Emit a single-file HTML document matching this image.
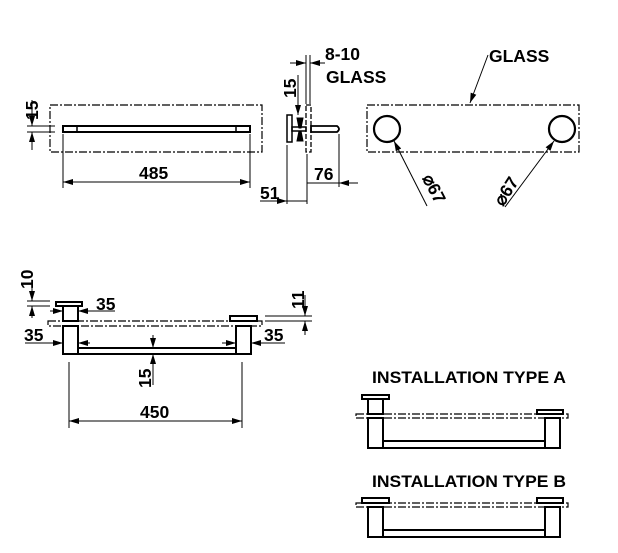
<!DOCTYPE html>
<html><head><meta charset="utf-8"><style>
html,body{margin:0;padding:0;background:#fff;width:618px;height:553px;overflow:hidden}
text{font-family:"Liberation Sans",Arial,sans-serif;font-weight:bold;fill:#000}
</style></head><body>
<svg width="618" height="553" viewBox="0 0 618 553" xmlns="http://www.w3.org/2000/svg">
<defs>
<marker id="a" viewBox="0 0 10 6" refX="10" refY="3" markerWidth="11" markerHeight="6" markerUnits="userSpaceOnUse" orient="auto"><path d="M0,0L10,3L0,6z" fill="#000"/></marker>
</defs>
<g fill="none" stroke="#000" stroke-width="1">
<!-- top left view -->
<rect x="50" y="105" width="212" height="47" stroke-dasharray="8,2,2,2" stroke-width="1.2"/>
<rect x="63" y="126" width="187" height="6" stroke-width="2"/>
<line x1="77" y1="126" x2="77" y2="132" stroke-width="1.5"/><line x1="236" y1="126" x2="236" y2="132" stroke-width="1.5"/>
<line x1="63" y1="134" x2="63" y2="188"/><line x1="250" y1="134" x2="250" y2="188"/>
<line x1="63" y1="182" x2="250" y2="182"/>
<line x1="95" y1="182" x2="63" y2="182" marker-end="url(#a)"/>
<line x1="215" y1="182" x2="250" y2="182" marker-end="url(#a)"/>
<line x1="27" y1="126" x2="55" y2="126"/><line x1="27" y1="132" x2="55" y2="132"/>
<line x1="32" y1="100" x2="32" y2="126" marker-end="url(#a)"/>
<line x1="32" y1="150" x2="32" y2="132" marker-end="url(#a)"/>
<!-- side view -->
<rect x="306" y="105" width="5" height="47" stroke-dasharray="5,2" stroke-width="1.3"/>
<rect x="287" y="115" width="5" height="27" stroke-width="1.5"/>
<rect x="292" y="127" width="14" height="4" stroke-width="1.5"/>
<path d="M297,118 L303,118 L301,128 L299,128Z M297,141 L303,141 L301,131 L299,131Z" fill="#000"/>
<path d="M311,126 L337,126 Q341,129 337,132 L311,132Z" stroke-width="1.8"/>
<line x1="306" y1="55" x2="306" y2="104"/><line x1="310" y1="55" x2="310" y2="104"/>
<line x1="290" y1="63" x2="306" y2="63" marker-end="url(#a)"/>
<line x1="325" y1="63" x2="310" y2="63" marker-end="url(#a)"/>
<line x1="298" y1="75" x2="298" y2="115" marker-end="url(#a)"/>
<line x1="287" y1="145" x2="287" y2="204"/><line x1="307" y1="154" x2="307" y2="204"/><line x1="339" y1="134" x2="339" y2="187"/>
<line x1="358" y1="183" x2="339" y2="183" marker-end="url(#a)"/>
<line x1="307" y1="183" x2="339" y2="183"/>
<line x1="260" y1="201" x2="287" y2="201" marker-end="url(#a)"/>
<line x1="287" y1="201" x2="307" y2="201"/>
<!-- right view -->
<rect x="367" y="105" width="212" height="47" stroke-dasharray="8,2,2,2" stroke-width="1.2"/>
<circle cx="387" cy="129" r="13" stroke-width="2.2"/>
<circle cx="562" cy="129" r="13" stroke-width="2.2"/>
<line x1="488" y1="55" x2="470" y2="103" marker-end="url(#a)"/>
<line x1="427" y1="206" x2="394" y2="141" marker-end="url(#a)"/>
<line x1="505" y1="207" x2="554" y2="141" marker-end="url(#a)"/>
<!-- bottom left -->
<rect x="48" y="321" width="214" height="5" stroke-dasharray="8,2,2,2" stroke-width="1.2"/>
<rect x="56" y="302" width="26" height="4" stroke-width="2"/>
<rect x="63" y="306" width="15" height="15" stroke-width="2"/>
<rect x="63" y="326" width="15" height="28" stroke-width="2"/>
<rect x="230" y="316" width="27" height="5" stroke-width="2"/>
<rect x="236" y="326" width="15" height="28" stroke-width="2"/>
<rect x="78" y="348" width="158" height="6" stroke-width="2"/>
<line x1="69" y1="362" x2="69" y2="428"/><line x1="242" y1="362" x2="242" y2="428"/>
<line x1="69" y1="421" x2="242" y2="421"/>
<line x1="100" y1="421" x2="69" y2="421" marker-end="url(#a)"/>
<line x1="210" y1="421" x2="242" y2="421" marker-end="url(#a)"/>
<line x1="153" y1="335" x2="153" y2="348" marker-end="url(#a)"/>
<line x1="153" y1="385" x2="153" y2="354" marker-end="url(#a)"/>
<line x1="27" y1="301" x2="50" y2="301"/><line x1="27" y1="306" x2="50" y2="306"/>
<line x1="32" y1="280" x2="32" y2="301" marker-end="url(#a)"/>
<line x1="32" y1="318" x2="32" y2="306" marker-end="url(#a)"/>
<line x1="265" y1="316" x2="312" y2="316"/><line x1="265" y1="321" x2="312" y2="321"/>
<line x1="305" y1="295" x2="305" y2="316" marker-end="url(#a)"/>
<line x1="305" y1="335" x2="305" y2="321" marker-end="url(#a)"/>
<line x1="50" y1="311" x2="63" y2="311" marker-end="url(#a)"/>
<line x1="115" y1="311" x2="78" y2="311" marker-end="url(#a)"/>
<line x1="25" y1="343" x2="63" y2="343" marker-end="url(#a)"/>
<line x1="90" y1="343" x2="78" y2="343" marker-end="url(#a)"/>
<line x1="222" y1="343" x2="236" y2="343" marker-end="url(#a)"/>
<line x1="285" y1="343" x2="251" y2="343" marker-end="url(#a)"/>
<!-- type A -->
<rect x="362" y="395" width="27" height="4" stroke-width="2"/>
<rect x="368" y="399" width="15" height="15" stroke-width="2"/>
<rect x="356" y="414" width="212" height="4" stroke-dasharray="8,2,2,2" stroke-width="1.2"/>
<rect x="537" y="410" width="26" height="4" stroke-width="2"/>
<rect x="368" y="418" width="15" height="30" stroke-width="2"/>
<rect x="545" y="418" width="15" height="30" stroke-width="2"/>
<rect x="383" y="441" width="162" height="7" stroke-width="2"/>
<!-- type B -->
<rect x="362" y="498" width="27" height="5" stroke-width="2"/>
<rect x="537" y="498" width="26" height="5" stroke-width="2"/>
<rect x="356" y="503" width="212" height="4" stroke-dasharray="8,2,2,2" stroke-width="1.2"/>
<rect x="368" y="507" width="15" height="30" stroke-width="2"/>
<rect x="545" y="507" width="15" height="30" stroke-width="2"/>
<rect x="383" y="530" width="162" height="7" stroke-width="2"/>
</g>
<g font-size="17.5">
<text x="139" y="179">485</text>
<text x="0" y="0" transform="translate(38,120) rotate(-90)">15</text>
<text x="325" y="60">8-10</text>
<text x="326" y="83">GLASS</text>
<text x="0" y="0" transform="translate(296,98) rotate(-90)">15</text>
<text x="314" y="180">76</text>
<text x="260" y="199">51</text>
<text x="489" y="62">GLASS</text>
<text x="0" y="0" transform="translate(422,178) rotate(63)">⌀67</text>
<text x="0" y="0" transform="translate(503,207) rotate(-57)">⌀67</text>
<text x="140" y="418">450</text>
<text x="0" y="0" transform="translate(151,388) rotate(-90)">15</text>
<text x="0" y="0" transform="translate(33,289) rotate(-90)">10</text>
<text x="0" y="0" transform="translate(304,309) rotate(-90)">11</text>
<text x="96" y="310">35</text>
<text x="24" y="341">35</text>
<text x="264" y="341">35</text>
<text x="372" y="383" font-size="17" textLength="194" lengthAdjust="spacingAndGlyphs">INSTALLATION TYPE A</text>
<text x="372" y="487" font-size="17" textLength="194" lengthAdjust="spacingAndGlyphs">INSTALLATION TYPE B</text>
</g>
</svg>
</body></html>
